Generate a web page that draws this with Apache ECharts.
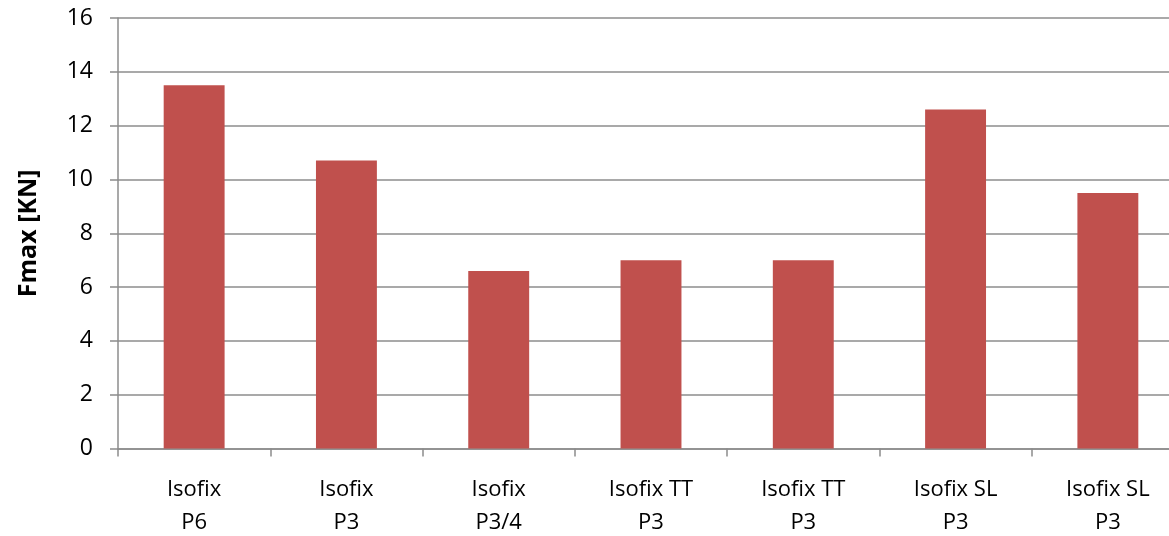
<!DOCTYPE html>
<html>
<head>
<meta charset="utf-8">
<script src="https://cdn.jsdelivr.net/npm/echarts@6/dist/echarts.min.js"></script>
<style>
  html, body { margin: 0; padding: 0; background: #fff; }
  #chart { width: 1169px; height: 536px; }
</style>
</head>
<body>
<div id="chart"></div>
<script>
const categories = [
  'Isofix\nP6', 'Isofix\nP3', 'Isofix\nP3/4', 'Isofix TT\nP3',
  'Isofix TT\nP3', 'Isofix SL\nP3', 'Isofix SL\nP3'
];
const fmaxValues = [13.5, 10.7, 6.6, 7.0, 7.0, 12.6, 9.5];
const yTicks = { min: 0, max: 16, interval: 2 };

const chart = echarts.init(document.getElementById('chart'));

const font = '"Open Sans", "Noto Sans", sans-serif';

// the original is cropped on the right, so the plot runs past the edge
chart.setOption({
  animation: false,
  grid: { left: 118, width: 1066, top: 18, height: 430.5, outerBoundsMode: 'none', containLabel: false },
  xAxis: {
    type: 'category',
    data: categories,
    boundaryGap: true,
    axisLine: { lineStyle: { color: '#8c8c8c', width: 1.5 } },
    axisTick: { show: true, length: 8, lineStyle: { color: '#8c8c8c', width: 1.5 } },
    axisLabel: {
      color: '#000', fontFamily: font, fontSize: 22, lineHeight: 33,
      margin: 25, interval: 0
    }
  },
  yAxis: {
    type: 'value',
    min: yTicks.min, max: yTicks.max, interval: yTicks.interval,
    name: 'Fmax [KN]',
    nameLocation: 'middle',
    nameGap: 77,
    nameRotate: 90,
    nameTextStyle: { color: '#000', fontFamily: font, fontSize: 25, fontWeight: 'bold' },
    axisLine: { show: true, lineStyle: { color: '#8c8c8c', width: 1.5 } },
    axisTick: { show: true, length: 8, lineStyle: { color: '#8c8c8c', width: 1.5 } },
    splitLine: { show: true, lineStyle: { color: '#8c8c8c', width: 1.5 } },
    axisLabel: { color: '#000', fontFamily: font, fontSize: 23, margin: 25 }
  },
  series: [{
    type: 'bar',
    data: fmaxValues,
    barWidth: '40%',
    itemStyle: { color: '#C0504D' }
  }]
});
</script>
</body>
</html>
